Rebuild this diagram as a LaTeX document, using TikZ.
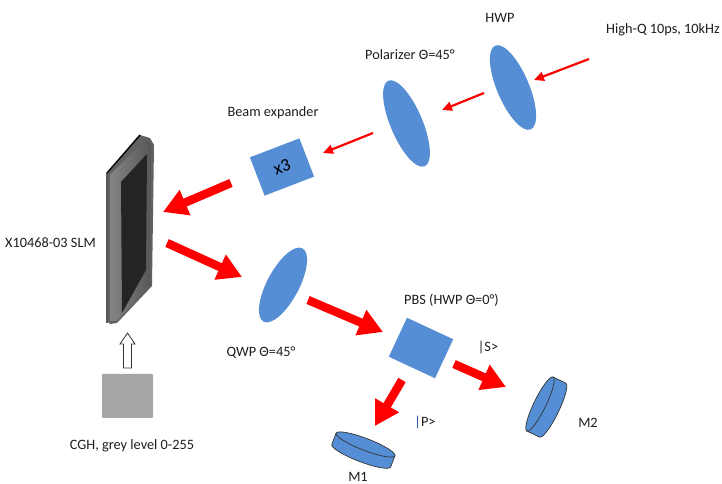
\documentclass[tikz,border=0pt]{standalone}
\usepackage{fontspec}
\setmainfont{Carlito}
\usetikzlibrary{arrows.meta,shapes.geometric}
\definecolor{optblue}{RGB}{85,142,213}
\definecolor{beamred}{RGB}{255,0,0}
\definecolor{labelgray}{RGB}{30,30,30}
\definecolor{cghgray}{RGB}{166,166,166}
\definecolor{ketbar}{RGB}{40,80,160}
\begin{document}
\begin{tikzpicture}[x=1pt,y=1pt,
  lbl/.style={font=\fontsize{14.3}{16}\selectfont, text=labelgray, inner sep=0pt},
  lens/.style={ellipse, fill=optblue, inner sep=0pt},
  cube/.style={rectangle, fill=optblue, inner sep=0pt},
  thinbeam/.style={draw=beamred, line width=2.2pt, -{Triangle[length=10pt,width=9pt]}},
  thickbeam/.style={draw=beamred, line width=8.5pt, -{Triangle[length=24pt,width=26pt]}},
  mirrorface/.style={fill=optblue, draw=black!80, line width=0.7pt},
]
\useasboundingbox[fill=white] (0,0) rectangle (722,484);

% ---- labels ----
\node[lbl, anchor=west] (tsrc) at (606,454) {High-Q 10ps, 10kHz};
\node[lbl] (thwp) at (500,466) {HWP};
\node[lbl] (tpol) at (410,429) {Polarizer Θ=45°};
\node[lbl] (tbex) at (273,371) {Beam expander};
\node[lbl, anchor=west] (tslm) at (5,241) {X10468-03 SLM};
\node[lbl] (tqwp) at (261,131) {QWP Θ=45°};
\node[lbl, anchor=west] (tpbs) at (404,184) {PBS (HWP Θ=0°)};
\node[lbl] (tks) at (488,136) {|S>};
\node[lbl] (tkp) at (425,61) {\textcolor{ketbar}{|}P>};
\node[lbl] (tm1) at (358,7) {M1};
\node[lbl] (tm2) at (588,61) {M2};
\node[lbl] (tcgh) at (132,38) {CGH, grey level 0-255};

% ---- optics ----
\node[lens, minimum width=32pt, minimum height=91pt, rotate=23] (hwp) at (513,396.5) {};
\node[lens, minimum width=32pt, minimum height=93pt, rotate=23] (pol) at (406.5,360.5) {};
\node[lens, minimum width=32pt, minimum height=83pt, rotate=-28] (qwp) at (283,199) {};
\node[cube, minimum width=53pt, minimum height=41pt, rotate=21,
      font=\fontsize{18}{20}\selectfont] (bex) at (282,317) {x3};
\node[cube, minimum width=51pt, minimum height=43pt, rotate=-25] (pbs) at (421,136) {};

% ---- mirrors (short cylinders) ----
\begin{scope}[shift={(365.5,39.5)}, rotate=-21]
  \path[mirrorface] (-31.5,0) -- (-31.5,-12)
     arc[start angle=180, end angle=360, x radius=31.5, y radius=6] -- (31.5,0) -- cycle;
  \path[mirrorface] (0,0) ellipse[x radius=31.5, y radius=6];
\end{scope}
\begin{scope}[shift={(540,80)}, rotate=64]
  \path[mirrorface] (-30,0) -- (-30,-14)
     arc[start angle=180, end angle=360, x radius=30, y radius=6] -- (30,0) -- cycle;
  \path[mirrorface] (0,0) ellipse[x radius=30, y radius=6];
\end{scope}

% ---- spatial light modulator ----
\fill[black!62] (108,311) -- (140,349) -- (150,346) -- (154,339) -- (152,198)
   -- (117,161) -- (110,160) -- (108,162) -- cycle;
\shade[left color=black!48, right color=black!66] (110,309) -- (146,345) -- (151,340)
   -- (150,199) -- (117,163) -- (110,163) -- cycle;
\fill[black!86] (121,302) -- (147,330) -- (146,214) -- (122,171) -- cycle;
\draw[black, line width=1.4pt] (107,161) -- (107,311) -- (140,349);

% ---- hologram source ----
\node[fill=cghgray, rounded corners=1pt, minimum width=51pt, minimum height=44pt,
      inner sep=0pt] (cgh) at (127.5,88) {};
\draw[black!80, fill=white, line width=0.8pt] (123.5,116) -- (123.5,140) -- (120,140)
   -- (127.5,151) -- (135,140) -- (131.5,140) -- (131.5,116) -- cycle;

% ---- beams ----
\coordinate (b0s) at (589,425); \coordinate (b0e) at (534,404);
\coordinate (b1s) at (484,391); \coordinate (b1e) at (442,374);
\coordinate (b2s) at (373,351); \coordinate (b2e) at (323,331);
\draw[thinbeam] (b0s) -- (b0e);
\draw[thinbeam] (b1s) -- (b1e);
\draw[thinbeam] (b2s) -- (b2e);

\coordinate (t1s) at (231,301); \coordinate (t1e) at (163,272);
\coordinate (t2s) at (167,241); \coordinate (t2e) at (242,207);
\coordinate (t3s) at (308,184); \coordinate (t3e) at (383,152);
\coordinate (t4s) at (402,104); \coordinate (t4e) at (375,58);
\coordinate (t5s) at (454,120); \coordinate (t5e) at (506,97);
\draw[thickbeam] (t1s) -- (t1e);
\draw[thickbeam] (t2s) -- (t2e);
\draw[thickbeam] (t3s) -- (t3e);
\draw[thickbeam] (t4s) -- (t4e);
\draw[thickbeam] (t5s) -- (t5e);
\end{tikzpicture}
\end{document}
